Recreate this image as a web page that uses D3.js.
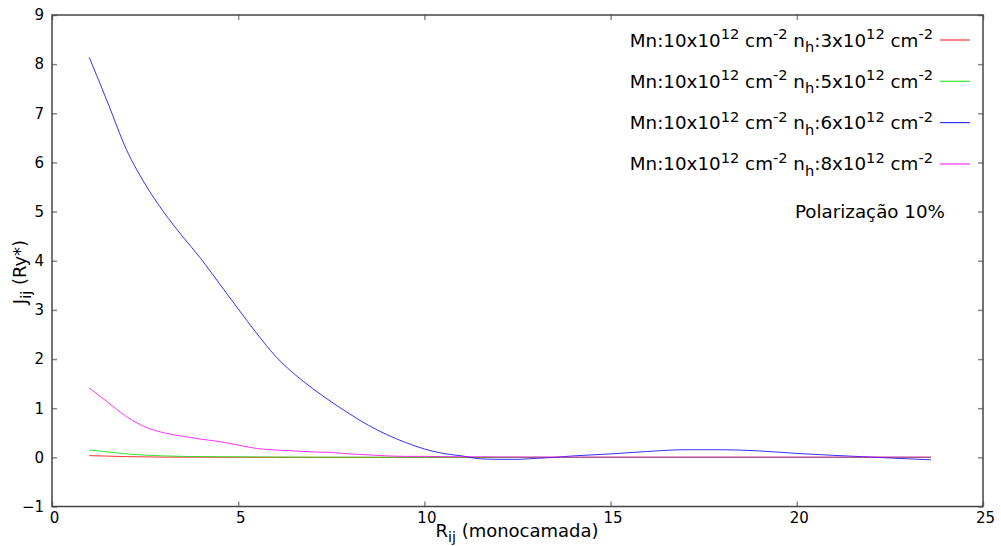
<!DOCTYPE html>
<html>
<head>
<meta charset="utf-8">
<script src="https://cdn.jsdelivr.net/npm/d3@7/dist/d3.min.js"></script>
<style>
  html, body { margin: 0; padding: 0; background: #fff; }
  svg { display: block; font-family: "DejaVu Sans", sans-serif; }
</style>
</head>
<body>
<svg id="chart" width="1001" height="546"></svg>
<script>
// Distance between Mn ions (monolayers)
const rValues = [1, 1.5, 2, 2.5, 3, 3.5, 4, 4.5, 5, 5.5, 6, 6.5, 7, 7.5, 8, 8.5, 9, 9.5, 10, 10.5,
                 11, 11.5, 12, 12.5, 13, 13.5, 14, 14.5, 15, 16, 17, 18, 19, 20, 21, 22, 23, 23.6];

// Exchange coupling J_ij (Ry*) for each hole density
const jNh3 = [0.035, 0.025, 0.015, 0.01, 0.005, 0.004, 0.003, 0.002, 0.002, 0.001, 0.001, 0.001, 0, 0, 0, 0, 0, 0, 0, 0,
              0, 0, 0, 0, 0, 0, 0, 0, 0, 0, 0, 0, 0, 0, 0, 0, 0, 0];
const jNh5 = [0.15, 0.11, 0.07, 0.045, 0.03, 0.02, 0.015, 0.012, 0.01, 0.008, 0.006, 0.005, 0.004, 0.003, 0.003, 0.002, 0.002, 0.002, 0.001, 0.001,
              0.001, 0.001, 0, 0, 0, 0, 0, 0, 0, 0, 0, 0, 0, 0, 0, 0, 0, 0];
const jNh6 = [8.14, 7.21, 6.26, 5.56, 4.99, 4.5, 4.04, 3.53, 3.02, 2.52, 2.06, 1.7, 1.4, 1.13, 0.88, 0.65, 0.46, 0.3, 0.17, 0.08,
              0.03, -0.03, -0.04, -0.04, -0.02, 0.0, 0.03, 0.05, 0.07, 0.12, 0.155, 0.155, 0.13, 0.08, 0.04, 0.005, -0.03, -0.05];
const jNh8 = [1.41, 1.12, 0.83, 0.62, 0.5, 0.43, 0.37, 0.32, 0.25, 0.18, 0.15, 0.13, 0.11, 0.1, 0.07, 0.05, 0.03, 0.02, 0.02, 0.015,
              0.01, 0.01, 0.008, 0.007, 0.006, 0.005, 0.005, 0.005, 0.005, 0.005, 0.005, 0.005, 0.005, 0.005, 0.005, 0.005, 0.005, 0.005];

const holeDensities = ["3", "5", "6", "8"];
const seriesColors = ["#ff0000", "#00e000", "#0000ff", "#ff00ff"];
const xTicks = [0, 5, 10, 15, 20, 25];
const yTicks = [-1, 0, 1, 2, 3, 4, 5, 6, 7, 8, 9];
const noteText = "Polarização 10%";

const series = [jNh3, jNh5, jNh6, jNh8];

const svg = d3.select("#chart");
const plot = { left: 52, right: 983, top: 15, bottom: 506.5 };

const x = d3.scaleLinear().domain([0, 25]).range([plot.left, plot.right]);
const y = d3.scaleLinear().domain([-1, 9]).range([plot.bottom, plot.top]);

const tickLen = 5;

// Axes with inward ticks (mirrored on top and right)
const gLeft = svg.append("g").attr("transform", `translate(${plot.left},0)`)
  .call(d3.axisLeft(y).tickValues(yTicks).tickSize(-tickLen).tickPadding(8).tickFormat(d3.format("d")));
const gRight = svg.append("g").attr("transform", `translate(${plot.right},0)`)
  .call(d3.axisRight(y).tickValues(yTicks).tickSize(-tickLen).tickFormat(""));
const gBottom = svg.append("g").attr("transform", `translate(0,${plot.bottom})`)
  .call(d3.axisBottom(x).tickValues(xTicks).tickSize(-tickLen).tickPadding(6).tickFormat(d3.format("d")));
const gTop = svg.append("g").attr("transform", `translate(0,${plot.top})`)
  .call(d3.axisTop(x).tickValues(xTicks).tickSize(-tickLen).tickFormat(""));

[gLeft, gRight, gBottom, gTop].forEach(g => {
  g.select(".domain").remove();
  g.selectAll(".tick line").attr("stroke", "#888").attr("stroke-width", 1.5);
  g.selectAll(".tick text").attr("fill", "#000").style("font-size", "15px")
    .style("font-family", "'DejaVu Sans', sans-serif");
});
gBottom.selectAll(".tick text").attr("dx", "2");

// Curves
const line = d3.line().x((d, i) => x(rValues[i])).y(d => y(d)).curve(d3.curveMonotoneX);
series.forEach((vals, k) => {
  svg.append("path")
    .datum(vals)
    .attr("fill", "none")
    .attr("stroke", seriesColors[k])
    .attr("stroke-width", 1)
    .attr("stroke-opacity", 0.8)
    .attr("d", line);
});

// Frame
svg.append("rect")
  .attr("x", plot.left).attr("y", plot.top)
  .attr("width", plot.right - plot.left).attr("height", plot.bottom - plot.top)
  .attr("fill", "none").attr("stroke", "#444").attr("stroke-width", 1.5);

// Rich text helper: segments with optional superscript / subscript
function richText(sel, parts, size) {
  let shift = 0;
  parts.forEach(p => {
    let target = 0, fs = size;
    if (p.sup) { target = -0.4 * size; fs = size * 0.8; }
    if (p.sub) { target = 0.3 * size; fs = size * 0.8; }
    sel.append("tspan")
      .attr("dy", target - shift)
      .style("font-size", fs + "px")
      .text(p.t);
    shift = target;
  });
}

// Legend
const legendSize = 18.3;
holeDensities.forEach((nh, k) => {
  const cy = 40 + k * 41.3;
  const t = svg.append("text")
    .attr("x", 933).attr("y", cy + 6.5)
    .attr("text-anchor", "end")
    .style("font-size", legendSize + "px");
  richText(t, [
    { t: "Mn:10x10" }, { t: "12", sup: true }, { t: " cm" }, { t: "-2", sup: true },
    { t: " n" }, { t: "h", sub: true }, { t: ":" + nh + "x10" }, { t: "12", sup: true },
    { t: " cm" }, { t: "-2", sup: true }
  ], legendSize);
  svg.append("line")
    .attr("x1", 940).attr("x2", 970).attr("y1", cy).attr("y2", cy)
    .attr("stroke", seriesColors[k]).attr("stroke-width", 1.2).attr("stroke-opacity", 0.8);
});

svg.append("text")
  .attr("x", 945).attr("y", 218)
  .attr("text-anchor", "end")
  .style("font-size", "18.3px")
  .text(noteText);

// Axis titles
const xt = svg.append("text")
  .attr("x", 517).attr("y", 537)
  .attr("text-anchor", "middle")
  .style("font-size", "18px");
richText(xt, [{ t: "R" }, { t: "ij", sub: true }, { t: " (monocamada)" }], 18);

const yt = svg.append("text")
  .attr("transform", "translate(26,272) rotate(-90)")
  .attr("text-anchor", "middle")
  .style("font-size", "18px");
richText(yt, [{ t: "J" }, { t: "ij", sub: true }, { t: " (Ry*)" }], 18);
</script>
</body>
</html>
